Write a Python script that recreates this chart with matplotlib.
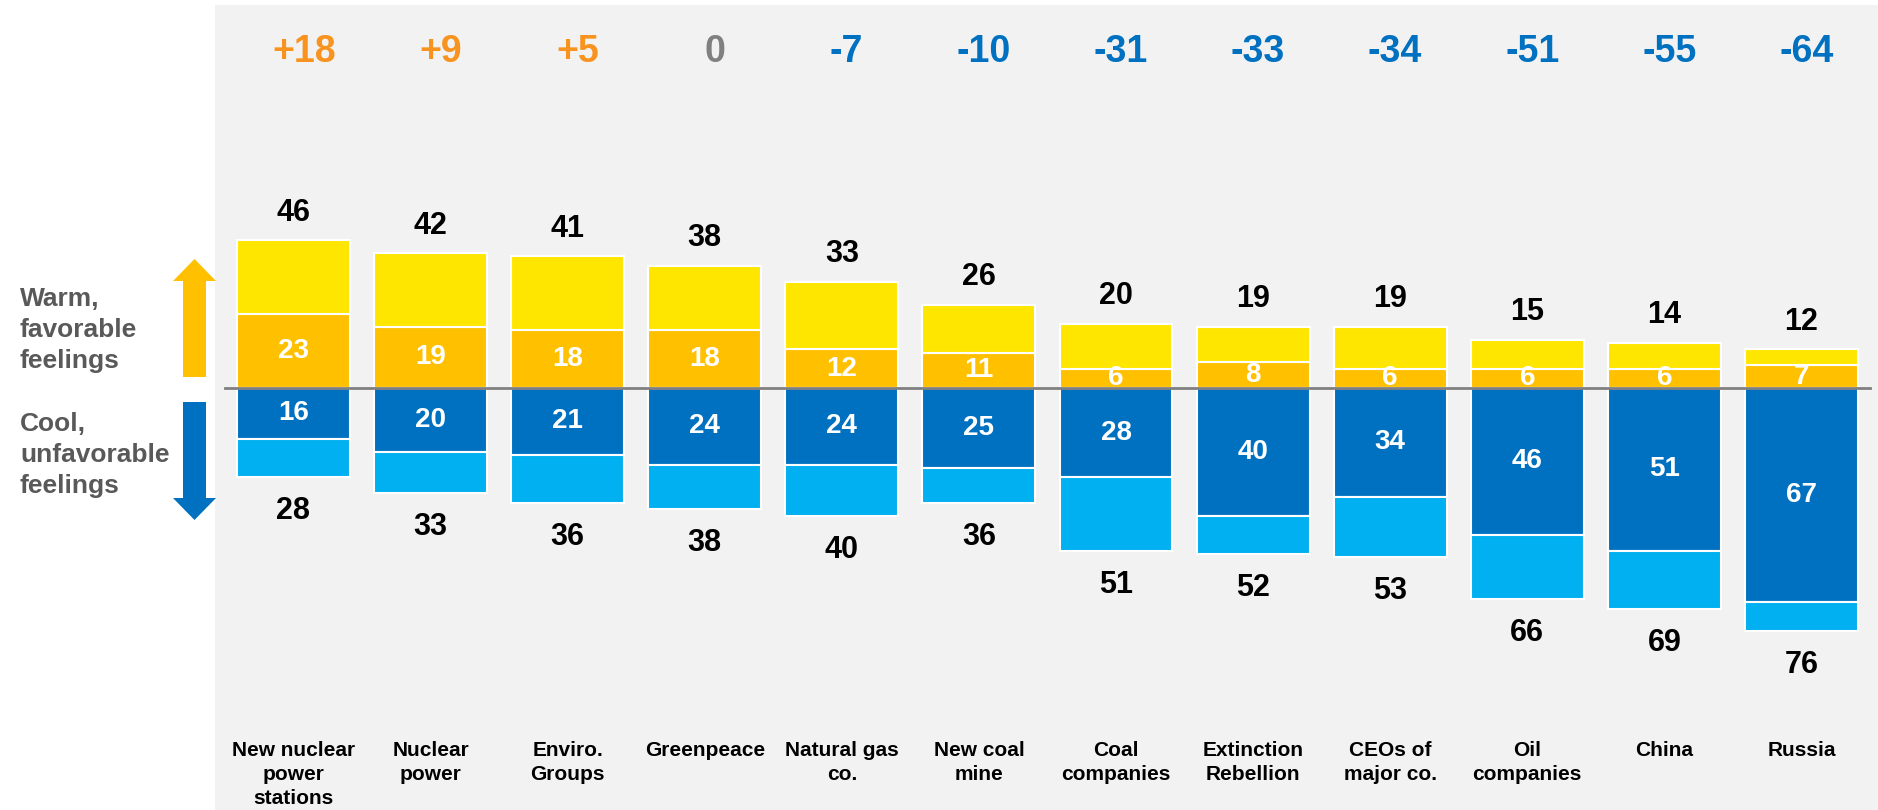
import numpy as np
import matplotlib.pyplot as plt
from matplotlib.patches import Rectangle, FancyArrow
from matplotlib.transforms import blended_transform_factory

plt.rcParams['font.family'] = ['Liberation Sans', 'DejaVu Sans']

# ===============================
# DATA
# ===============================
categories = ["New nuclear\npower\nstations", "Nuclear\npower", "Enviro.\nGroups",
              "Greenpeace", "Natural gas\nco.", "New coal\nmine", "Coal\ncompanies",
              "Extinction\nRebellion", "CEOs of\nmajor co.", "Oil\ncompanies",
              "China", "Russia"]
fav_total = [46, 42, 41, 38, 33, 26, 20, 19, 19, 15, 14, 12]
fav_strong = [23, 19, 18, 18, 12, 11, 6, 8, 6, 6, 6, 7]
unfav_total = [28, 33, 36, 38, 40, 36, 51, 52, 53, 66, 69, 76]
unfav_strong = [16, 20, 21, 24, 24, 25, 28, 40, 34, 46, 51, 67]
net_labels = ["+18", "+9", "+5", "0", "-7", "-10", "-31", "-33", "-34", "-51", "-55", "-64"]

# ===============================
# STYLE
# ===============================
W, H = 1878, 810
YELLOW = "#FFE600"
ORANGE = "#FFC000"
BLUE = "#0070C0"
LIGHT = "#00B0F0"
BG = "#F2F2F2"

fig = plt.figure(figsize=(W / 100, H / 100), dpi=100)

# decoration layer in pixel coords (background panel + arrows + side text)
deco = fig.add_axes([0, 0, 1, 1])
deco.set_xlim(0, W)
deco.set_ylim(H, 0)
deco.axis("off")
deco.add_patch(Rectangle((215, 5), W - 215, H - 5, color=BG, lw=0))
deco.add_patch(FancyArrow(194.5, 377, 0, -118, width=23, head_width=43, head_length=22,
                          length_includes_head=True, color=ORANGE, lw=0))
deco.add_patch(FancyArrow(194.5, 402, 0, 118, width=23, head_width=43, head_length=22,
                          length_includes_head=True, color=BLUE, lw=0))
deco.text(20, 330, "Warm,\nfavorable\nfeelings", ha="left", va="center", fontsize=19,
          weight="bold", color="#595959", linespacing=1.36)
deco.text(20, 455, "Cool,\nunfavorable\nfeelings", ha="left", va="center", fontsize=19,
          weight="bold", color="#595959", linespacing=1.36)

# ===============================
# MAIN CHART
# ===============================
ax = fig.add_axes([0, 0, 1, 1])
ax.set_facecolor("none")
x = np.arange(len(categories))
fav_total = np.array(fav_total)
fav_strong = np.array(fav_strong)
unfav_total = np.array(unfav_total)
unfav_strong = np.array(unfav_strong)

bw = 0.824
kw = dict(width=bw, edgecolor="white", linewidth=1.5, zorder=2)
ax.bar(x, fav_strong, color=ORANGE, **kw)
ax.bar(x, fav_total - fav_strong, bottom=fav_strong, color=YELLOW, **kw)
ax.bar(x, -unfav_strong, color=BLUE, **kw)
ax.bar(x, -(unfav_total - unfav_strong), bottom=-unfav_strong, color=LIGHT, **kw)

ax.plot([-0.5, 11.5], [0, 0], color="#808080", lw=2, zorder=3)

trans = blended_transform_factory(ax.transData, ax.transAxes)
for i in x:
    ax.annotate(str(fav_total[i]), (i, fav_total[i]), xytext=(0, 20), textcoords="offset points",
                ha="center", va="center", fontsize=22, weight="bold", color="black")
    ax.annotate(str(unfav_total[i]), (i, -unfav_total[i]), xytext=(0, -24.5), textcoords="offset points",
                ha="center", va="center", fontsize=22, weight="bold", color="black")
    ax.text(i, fav_strong[i] / 2, str(fav_strong[i]), ha="center", va="center",
            fontsize=20, weight="bold", color="white", zorder=4)
    ax.text(i, -unfav_strong[i] / 2, str(unfav_strong[i]), ha="center", va="center",
            fontsize=20, weight="bold", color="white", zorder=4)

    lab = net_labels[i]
    if lab.startswith("+"):
        c, dx = "#F7931E", 7.5
    elif lab == "0":
        c, dx = "#808080", 7.5
    else:
        c, dx = BLUE, 3.5
    ax.annotate(lab, (i, 1 - 61.7 / H), xycoords=trans, xytext=(dx, 0), textcoords="offset points",
                ha="center", va="baseline", fontsize=27, weight="bold", color=c)
    ax.text(i, 0.085, categories[i], transform=trans, ha="center", va="top", fontsize=15,
            weight="bold", color="black", linespacing=1.33)

# pixel mapping: centre of bar 0 at 293 px, spacing 137 px; baseline 388 px from top, 3.2 px/unit
ax.set_xlim(-293.4 / 137.1, (W - 293.4) / 137.1)
ax.set_ylim(-422.3 / 3.2, (H - 422.3) / 3.2)
ax.axis("off")

fig.savefig("out.png", dpi=100)
